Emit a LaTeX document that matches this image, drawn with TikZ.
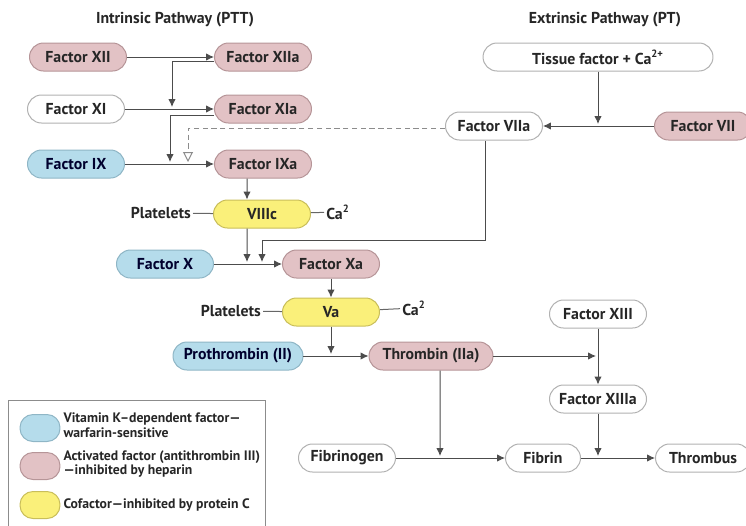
\documentclass[tikz,border=0pt]{standalone}
\usepackage{fontspec}
\setmainfont{PT Sans}
\usetikzlibrary{arrows.meta}

\definecolor{vitkfill}{HTML}{B5DCEB}
\definecolor{vitkline}{HTML}{8FB6C6}
\definecolor{actfill}{HTML}{E2C2C5}
\definecolor{actline}{HTML}{B69598}
\definecolor{cofill}{HTML}{FAF07A}
\definecolor{coline}{HTML}{C9BE5A}
\definecolor{inkgray}{HTML}{262626}

\begin{document}
\begin{tikzpicture}[
		x=0.02cm,
		y=-0.02cm,
		line width=0.2mm,
		every node/.style={font=\bfseries\fontsize{9}{10}\selectfont, text=inkgray},
		factor/.style={draw=black!30, fill=white, rounded corners=0.28cm, minimum width=1.94cm, minimum height=0.56cm, inner sep=1pt},
		vitk/.style={factor, fill=vitkfill, draw=vitkline, text=black!70!blue!60!black},
		active/.style={factor, fill=actfill, draw=actline},
		cofactor/.style={factor, fill=cofill, draw=coline},
		flow/.style={draw=black!70, -{Latex[length=1.6mm,width=1.5mm]}},
		dashflow/.style={draw=black!45, densely dashed, -{Triangle[open,length=2mm,width=2mm]}},
		link/.style={draw=black!60},
		desc/.style={inner sep=1pt},
		key/.style={rounded corners=0.26cm, minimum width=0.8cm, minimum height=0.54cm, inner sep=0pt},
		key text/.style={anchor=west, align=left, inner sep=0pt, font=\bfseries\fontsize{7.8}{8.3}\selectfont}
		]
	\useasboundingbox (0,0) rectangle (746,525);
	
	% Titles
	\node (intr) at (175, 20) {Intrinsic Pathway (PTT)};
	\node (extr) at (605, 20) {Extrinsic Pathway (PT)};
	
	% Intrinsic pathway
	\node[active] (xii) at (78, 57) {Factor XII};
	\node[active] (xiia) at (263, 57) {Factor XIIa};
	\node[factor] (xi) at (76, 109) {Factor XI};
	\node[active] (xia) at (263, 109) {Factor XIa};
	\node[vitk] (ix) at (76, 164) {Factor IX};
	\node[active] (ixa) at (263, 164) {Factor IXa};
	\node[cofactor] (viiic) at (262, 214) {VIIIc};
	\node[desc, anchor=east] (plt1) at (193, 213) {Platelets};
	\node[desc, anchor=west] (ca1) at (324, 212) {Ca\textsuperscript{2}};
	
	% Extrinsic pathway
	\node[factor, minimum width=4.6cm] (tf) at (598, 57) {Tissue factor + Ca\textsuperscript{2+}};
	\node[factor] (viia) at (494, 126) {Factor VIIa};
	\node[active] (vii) at (703, 126) {Factor VII};
	
	% Common pathway
	\node[vitk] (x) at (165, 264) {Factor X};
	\node[active] (xa) at (331, 264) {Factor Xa};
	\node[cofactor] (va) at (331, 312) {Va};
	\node[desc, anchor=east] (plt2) at (263, 311) {Platelets};
	\node[desc, anchor=west] (ca2) at (400, 308) {Ca\textsuperscript{2}};
	\node[vitk, minimum width=2.6cm] (pro) at (238, 356) {Prothrombin (II)};
	\node[active, minimum width=2.48cm] (thr) at (431, 356) {Thrombin (IIa)};
	\node[factor] (xiii) at (598, 314) {Factor XIII};
	\node[factor] (xiiia) at (598, 399) {Factor XIIIa};
	\node[factor] (fgen) at (347, 458) {Fibrinogen};
	\node[factor, minimum width=1.5cm] (fib) at (543, 458) {Fibrin};
	\node[factor, minimum width=1.9cm] (thrombus) at (703, 458) {Thrombus};
	
	% Junctions on the arrows
	\coordinate (j1) at (172, 107);
	\coordinate (j2) at (170, 162);
	\coordinate (j3) at (188, 162);
	\coordinate (j4) at (247, 262);
	\coordinate (j5) at (262, 262);
	\coordinate (bend) at (262, 240);
	\coordinate (j6) at (331, 354);
	\coordinate (j7) at (596, 356);
	\coordinate (j8) at (440, 456);
	\coordinate (j9) at (598, 456);
	\coordinate (j10) at (598, 124);
	
	% Intrinsic arrows
	\draw[flow] (xii) -- (xiia);
	\draw[flow] (xi) -- (xia);
	\draw[flow] (ix) -- (ixa);
	\draw[flow] ([yshift=-0.08cm]xiia.west) -| (j1);
	\draw[flow] ([yshift=-0.12cm]xia.west) -| (j2);
	\draw[dashflow] ([yshift=-0.04cm]viia.west) -| (j3);
	\draw[flow] ([xshift=-0.32cm]ixa.south) -- ([xshift=-0.3cm]viiic.north);
	\draw[link] (plt1) -- (viiic);
	\draw[link] (viiic) -- (ca1);
	
	% Extrinsic arrows
	\draw[flow] (vii) -- (viia);
	\draw[flow] (tf) -- (j10);
	\draw[flow] ([xshift=-0.18cm]viia.south) |- (bend) -- (j5);
	
	% Common arrows
	\draw[flow] ([xshift=-0.3cm]viiic.south) -- (j4);
	\draw[flow] (x) -- (xa);
	\draw[flow] (xa) -- (va);
	\draw[link] (plt2) -- (va);
	\draw[link] (va) -- (ca2);
	\draw[flow] (va) -- (j6);
	\draw[flow] (pro) -- (thr);
	\draw[flow] (thr) -- (j7);
	\draw[flow] (xiii) -- (xiiia);
	\draw[flow] ([xshift=0.18cm]thr.south) -- (j8);
	\draw[flow] (fgen) -- (fib);
	\draw[flow] (xiiia) -- (j9);
	\draw[flow] (fib) -- (thrombus);
	
	% Legend
	\draw[draw=black!45] (8, 400) rectangle (265, 540);
	\node[key, draw=vitkline, fill=vitkfill] (key1) at (40, 428) {};
	\node[key, draw=actline, fill=actfill] (key2) at (40, 466) {};
	\node[key, draw=coline, fill=cofill] (key3) at (40, 505) {};
	\node[key text] (txt1) at (63, 425) {Vitamin K--dependent factor---\\warfarin-sensitive};
	\node[key text] (txt2) at (63, 464) {Activated factor (antithrombin III)\\---inhibited by heparin};
	\node[key text] (txt3) at (63, 505) {Cofactor---inhibited by protein C};

\end{tikzpicture}
\end{document}
